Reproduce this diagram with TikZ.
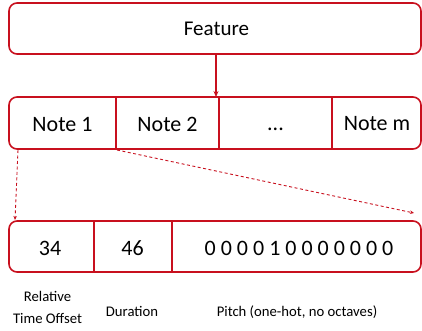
\documentclass[tikz,border=0pt]{standalone}
\usepackage{fontspec}
\setmainfont{Carlito}
\usetikzlibrary{arrows.meta}
\definecolor{dred}{RGB}{200,16,30}
\begin{document}
\begin{tikzpicture}[x=1pt,y=-1pt,
  frame/.style={draw=dred,line width=1.6pt,rounded corners=8pt,inner sep=0pt},
  cell/.style={inner sep=0pt,anchor=base,font=\fontsize{22}{24}\selectfont},
  divider/.style={draw=dred,line width=1.6pt},
  lab/.style={inner sep=0pt,anchor=base,font=\fontsize{14.7}{22}\selectfont},
  dasharrow/.style={draw=dred,line width=0.9pt,dash pattern=on 3pt off 2.5pt,-{Stealth[length=4pt,width=3.5pt]}},
  solidarrow/.style={draw=dred,line width=1.4pt,-{Stealth[length=6pt,width=5pt]}}]
\useasboundingbox (0,0) rectangle (422,330);
% Feature
\node[frame,minimum width=412pt,minimum height=51pt] (feat) at (215,28.5) {};
\node[cell,font=\fontsize{21}{24}\selectfont] (ft) at (216.5,35) {Feature};
% Notes row
\node[frame,minimum width=412pt,minimum height=52pt] (notes) at (215,123) {};
\node[cell] (n1) at (62.5,131.5) {Note 1};
\node[cell] (n2) at (167.5,131.5) {Note 2};
\node[cell] (n3) at (275.5,130) {...};
\node[cell] (nm) at (377,130.7) {Note m};
\draw[divider] (116,97) -- (116,149);
\draw[divider] (219,97) -- (219,149);
\draw[divider] (332,97) -- (332,149);
% Detail row
\node[frame,minimum width=412pt,minimum height=51pt] (det) at (215,246.5) {};
\node[cell] (v1) at (50,255) {34};
\node[cell] (v2) at (132.5,255) {46};
\node[cell] (v3) at (299,255) {0 0 0 0 1 0 0 0 0 0 0 0};
\draw[divider] (94,221) -- (94,272);
\draw[divider] (172,221) -- (172,272);
% labels
\node[lab] (l1a) at (47.5,301.7) {Relative};
\node[lab] (l1b) at (47.5,323) {Time Offset};
\node[lab] (l2) at (132,316) {Duration};
\node[lab] (l3) at (297,316) {Pitch (one-hot, no octaves)};
% arrows
\coordinate (fa) at (216,54);
\coordinate (fb) at (216,97);
\draw[solidarrow] (fa) -- (fb);
\coordinate (d1s) at (18,150);
\coordinate (d1e) at (15,220);
\coordinate (d2s) at (117,150);
\coordinate (d2e) at (414,213);
\draw[dasharrow] (d1s) -- (d1e);
\draw[dasharrow] (d2s) -- (d2e);
\end{tikzpicture}
\end{document}
